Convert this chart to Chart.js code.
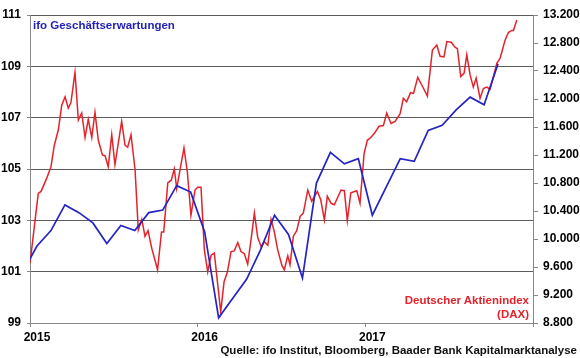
<!DOCTYPE html>
<html>
<head>
<meta charset="utf-8">
<script src="https://cdn.jsdelivr.net/npm/chart.js@4.4.1/dist/chart.umd.min.js"></script>
<style>
  html, body { margin: 0; padding: 0; background: #fff; }
  #wrap { position: relative; width: 580px; height: 358px; }
  canvas { position: absolute; left: 0; top: 0; }
  .lbl { position: absolute; font-family: Arial, "Liberation Sans", sans-serif; font-weight: bold; white-space: nowrap; line-height: 14px; }
  #ifoLbl { left: 33px; top: 18px; color: #2323b8; font-size: 11.5px; }
  #daxLbl { right: 51px; top: 293px; color: #e3232b; font-size: 11.5px; text-align: right; }
  #src { right: 3px; top: 343px; color: #111; font-size: 11.5px; }
</style>
</head>
<body>
<div id="wrap">
  <canvas id="c" width="580" height="358"></canvas>
  <div class="lbl" id="ifoLbl">ifo Geschäftserwartungen</div>
  <div class="lbl" id="daxLbl">Deutscher Aktienindex<br>(DAX)</div>
  <div class="lbl" id="src">Quelle: ifo Institut, Bloomberg, Baader Bank Kapitalmarktanalyse</div>
</div>
<script>
// ---- Data ----
// x axis: months since January 2015
const yearLabels = ['2015', '2016', '2017'];

// ifo Geschäftserwartungen (monthly, plotted mid-month)
const ifoMonths = ['2014-12','2015-01','2015-02','2015-03','2015-04','2015-05','2015-06','2015-07','2015-08','2015-09','2015-10','2015-11','2015-12',
  '2016-01','2016-02','2016-03','2016-04','2016-05','2016-06','2016-07','2016-08','2016-09','2016-10','2016-11','2016-12',
  '2017-01','2017-02','2017-03','2017-04','2017-05','2017-06','2017-07','2017-08','2017-09','2017-10'];
const ifoValues = [101.0, 102.0, 102.6, 103.6, 103.3, 102.9, 102.1, 102.8, 102.6, 103.3, 103.4, 104.35, 104.1,
  102.55, 99.2, 99.95, 100.7, 101.85, 103.2, 102.45, 100.75, 104.45, 105.65, 105.2, 105.4,
  103.2, 104.3, 105.4, 105.3, 106.5, 106.7, 107.3, 107.8, 107.5, 109.1];

// DAX (weekly closes, time in months since Jan 2015)
const daxMonths = [0.00,0.59,0.79,1.20,1.50,1.74,2.03,2.27,2.51,2.74,
  2.93,3.22,3.46,3.70,3.94,4.17,4.42,4.65,4.89,5.18,
  5.37,5.60,5.85,6.08,6.56,6.80,6.99,7.23,7.52,7.75,
  8.00,8.23,8.45,8.71,9.13,9.41,9.57,9.86,10.11,10.33,
  10.50,10.74,11.02,11.26,11.52,11.81,12.00,12.24,12.48,12.72,
  12.96,13.19,13.65,13.89,14.12,14.39,14.62,14.87,15.10,15.34,
  15.58,15.82,16.06,16.30,16.54,16.77,17.02,17.25,17.49,17.73,
  18.02,18.20,18.45,18.61,18.85,19.09,19.33,19.56,19.88,20.16,
  20.57,20.81,21.07,21.28,21.55,21.78,22.26,22.50,22.71,22.96,
  23.39,23.62,23.91,24.14,24.39,24.65,24.98,25.29,25.53,25.84,
  26.13,26.49,26.72,26.95,27.24,27.45,27.75,28.04,28.44,28.80,
  29.11,29.35,29.63,29.83,30.14,30.42,30.59,30.83,31.07,31.26,
  31.50,31.73,31.93,32.21,32.45,32.69,32.93,33.41,33.64,34.00,
  34.24,34.48,34.60,34.84];
const daxValues = [9650,10650,10680,10870,11030,11340,11560,11910,12030,11870,
  11950,12380,11700,11800,11450,11710,11450,11810,11410,11200,
  11190,11030,11490,11060,11680,11340,11310,11490,10990,10130,
  10280,10040,10120,9870,9560,10100,10100,10800,10840,11000,
  10720,10990,11300,10960,10340,10700,10740,10740,9840,9530,
  9770,9800,8960,9390,9520,9820,9830,9950,9820,9790,
  9640,9990,10370,10020,9890,9960,9910,10280,10100,9840,
  9630,9560,9760,9630,10040,10120,10320,10370,10700,10540,
  10680,10560,10270,10610,10510,10490,10700,10690,10260,10660,
  10690,10510,11220,11410,11450,11510,11610,11620,11800,11650,
  11680,11790,12010,11960,12090,12080,12310,12200,12040,12700,
  12770,12610,12600,12820,12810,12740,12720,12320,12370,12630,
  12340,12170,12300,12010,12150,12170,12140,12510,12580,12840,
  12950,12980,12980,13130];

// ---- Build ----
function monthIndex(s) {
  const [y, m] = s.split('-').map(Number);
  return (y - 2015) * 12 + (m - 1) + 0.5;
}
const ifoData = ifoMonths.map((s, i) => ({ x: monthIndex(s), y: ifoValues[i] }));
const daxData = daxMonths.map((m, i) => ({ x: m, y: daxValues[i] }));

const tickFont = { family: 'Arial, "Liberation Sans", sans-serif', size: 12, weight: 'bold' };

new Chart(document.getElementById('c'), {
  type: 'line',
  data: {
    datasets: [
      { label: 'ifo', data: ifoData, yAxisID: 'y', borderColor: '#2424c4', borderWidth: 1.7,
        pointRadius: 0, tension: 0, order: 0 },
      { label: 'DAX', data: daxData, yAxisID: 'y1', borderColor: '#e3232b', borderWidth: 1.5,
        pointRadius: 0, tension: 0, order: 1 }
    ]
  },
  options: {
    responsive: false,
    devicePixelRatio: 1,
    animation: false,
    events: [],
    layout: { padding: { top: 15, left: 0, right: 0, bottom: 0 } },
    plugins: { legend: { display: false }, tooltip: { enabled: false }, title: { display: false } },
    scales: {
      x: {
        type: 'linear', min: 0, max: 36,
        afterFit: a => { a.height = 35; },
        afterBuildTicks: a => { a.ticks = [0, 12, 24, 36].map(v => ({ value: v })); },
        ticks: {
          autoSkip: false, maxRotation: 0, color: '#000', font: tickFont, padding: 3, labelOffset: 7,
          callback: v => yearLabels[v / 12] || ''
        },
        grid: { drawOnChartArea: false, drawTicks: true, tickLength: 4, color: '#888' },
        border: { display: true, color: '#888', width: 1 }
      },
      y: {
        position: 'left', min: 99, max: 111,
        afterFit: a => { a.width = 30; },
        ticks: { stepSize: 2, color: '#000', font: tickFont, padding: 6 },
        grid: { color: '#5c5c5c', lineWidth: 1, drawTicks: true, tickLength: 3, tickColor: '#888' },
        border: { display: true, color: '#888', width: 1 }
      },
      y1: {
        position: 'right', min: 8800, max: 13200,
        afterFit: a => { a.width = 47; },
        ticks: { stepSize: 400, color: '#000', font: tickFont, padding: 5,
          callback: v => { const s = String(v); return s.slice(0, s.length - 3) + '.' + s.slice(-3); } },
        grid: { drawOnChartArea: false, drawTicks: true, tickLength: 5, color: '#888' },
        border: { display: true, color: '#888', width: 1 }
      }
    }
  }
});
</script>
</body>
</html>
